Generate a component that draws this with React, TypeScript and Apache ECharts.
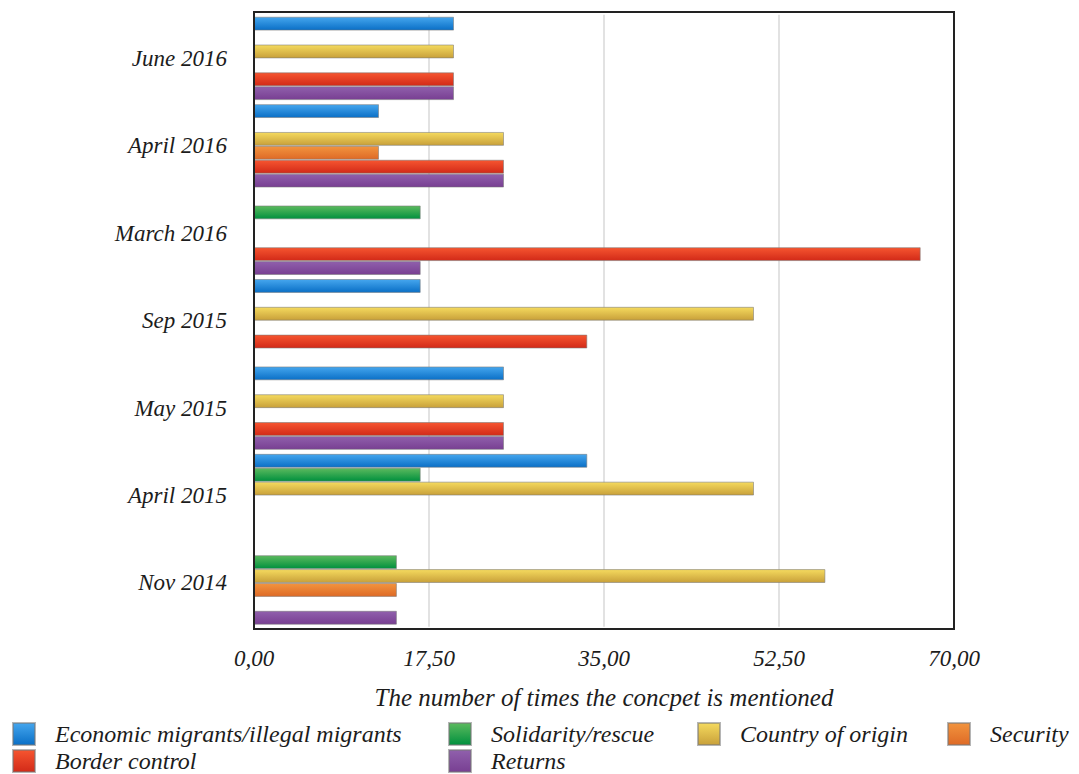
import React, { useEffect, useRef } from "react";
import * as echarts from "echarts";

// Months, listed top to bottom
const categories = ["June 2016", "April 2016", "March 2016", "Sep 2015", "May 2015", "April 2015", "Nov 2014"];

// Share of mentions per concept (per month, sums to 100)
const economicMigrants = [20, 12.5, null, 16.67, 25, 33.33, null];
const solidarityRescue = [null, null, 16.67, null, null, 16.67, 14.29];
const countryOfOrigin = [20, 25, null, 50, 25, 50, 57.14];
const security = [null, 12.5, null, null, null, null, 14.29];
const borderControl = [20, 25, 66.67, 33.33, 25, null, null];
const returns = [20, 25, 16.67, null, 25, null, 14.29];

const xTicks = [0, 17.5, 35, 52.5, 70];

const FONT = "'Liberation Serif', 'Times New Roman', serif";
const TEXT = "#1c1c1c";

const grad = (top: string, bottom: string) =>
  new echarts.graphic.LinearGradient(0, 0, 0, 1, [
    { offset: 0, color: top },
    { offset: 1, color: bottom },
  ]);

const seriesDefs = [
  { name: "Economic migrants/illegal migrants", data: economicMigrants, top: "#45a6ee", bottom: "#0a6fc6" },
  { name: "Solidarity/rescue", data: solidarityRescue, top: "#5cba5e", bottom: "#00903e" },
  { name: "Country of origin", data: countryOfOrigin, top: "#f5da5e", bottom: "#c8a03a" },
  { name: "Security", data: security, top: "#f2943e", bottom: "#de6a26" },
  { name: "Border control", data: borderControl, top: "#f65530", bottom: "#d22a18" },
  { name: "Returns", data: returns, top: "#9060ac", bottom: "#783f92" },
];

// Legend cells: [series index, left, top]
const legendCells: [number, number, number][] = [
  [0, 12, 722],
  [1, 448, 722],
  [2, 697, 722],
  [3, 947, 722],
  [4, 12, 749],
  [5, 448, 749],
];

const GRID_LEFT = 254;
const GRID_TOP = 14.7;
const GRID_W = 700;
const GRID_H = 612;

export default function App() {
  const ref = useRef<HTMLDivElement>(null);

  useEffect(() => {
    if (!ref.current) return;
    const chart = echarts.init(ref.current, undefined, { renderer: "svg" });

    chart.setOption({
      animation: false,
      backgroundColor: "#fff",
      grid: {
        left: GRID_LEFT,
        top: GRID_TOP,
        width: GRID_W,
        height: GRID_H,
        containLabel: false,
      },
      xAxis: {
        type: "value",
        min: 0,
        max: 70,
        interval: 17.5,
        name: "The number of times the concpet is mentioned",
        nameLocation: "middle",
        nameGap: 58,
        nameTextStyle: { fontFamily: FONT, fontStyle: "italic", fontSize: 25, color: TEXT },
        axisLine: { show: false },
        axisTick: { show: false },
        axisLabel: {
          fontFamily: FONT,
          fontStyle: "italic",
          fontSize: 23,
          color: TEXT,
          margin: 20,
          formatter: (v: number) =>
            xTicks.includes(v) ? v.toFixed(2).replace(".", ",") : "",
        },
        splitLine: { show: true, lineStyle: { color: "#e2e2e2", width: 2 } },
      },
      yAxis: {
        type: "category",
        data: categories,
        inverse: true,
        axisLine: { show: false },
        axisTick: { show: false },
        axisLabel: {
          fontFamily: FONT,
          fontStyle: "italic",
          fontSize: 23,
          color: TEXT,
          margin: 27,
        },
        splitLine: { show: false },
      },
      legend: legendCells.map(([i, left, top]) => ({
        left,
        top,
        padding: 0,
        itemWidth: 22,
        itemHeight: 22,
        icon: "rect",
        data: [seriesDefs[i].name],
        textStyle: {
          fontFamily: FONT,
          fontStyle: "italic",
          fontSize: 24,
          color: TEXT,
          padding: [0, 0, 0, 15],
        },
      })),
      series: seriesDefs.map((s) => ({
        name: s.name,
        type: "bar",
        data: s.data,
        barCategoryGap: "4.6%",
        barGap: "0%",
        itemStyle: {
          color: grad(s.top, s.bottom),
          borderColor: "rgba(120,120,120,0.55)",
          borderWidth: 1,
        },
      })),
      graphic: [
        {
          type: "rect",
          z: 10,
          shape: { x: GRID_LEFT, y: 12, width: GRID_W, height: 617 },
          style: { fill: "none", stroke: "#222", lineWidth: 2 },
          silent: true,
        },
      ],
    });

    return () => chart.dispose();
  }, []);

  return (
    <div
      ref={ref}
      style={{ position: "fixed", left: 0, top: 0, width: 1079, height: 774 }}
    />
  );
}
